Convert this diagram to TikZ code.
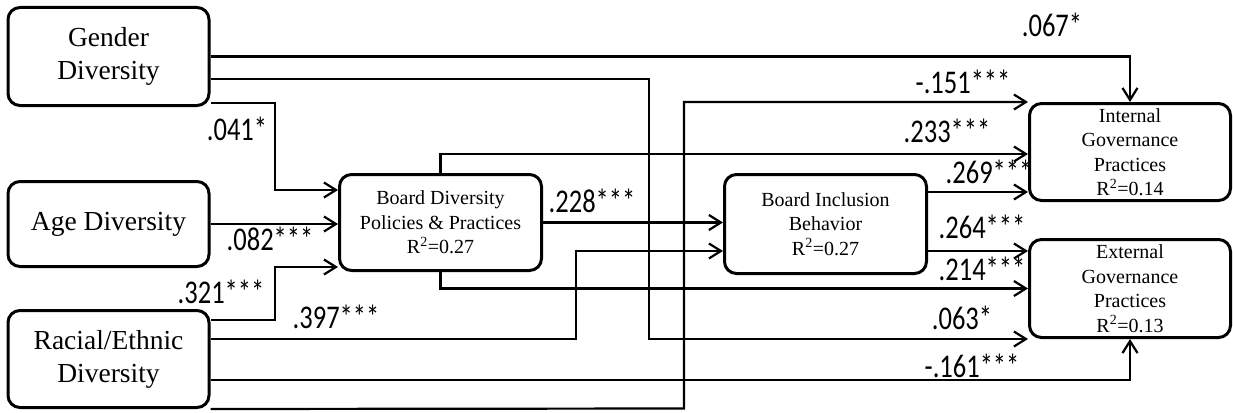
\documentclass[tikz,border=0pt]{standalone}
\usepackage{graphicx}
\usepackage{fontspec}
\setmainfont{Liberation Serif}
\newfontfamily\coeffont{Carlito}
\usetikzlibrary{arrows.meta}
\newcommand{\cf}[1]{\scalebox{1}[1.25]{#1}}
\tikzset{
  varbox/.style={draw=black, line width=3pt, rounded corners=12pt, align=center, inner sep=2pt, minimum width=201pt, font=\fontsize{27.5}{33}\selectfont},
  medbox/.style={draw=black, line width=3pt, rounded corners=12pt, align=center, inner sep=2pt, minimum width=202pt, font=\fontsize{20}{24.5}\selectfont},
  arrow/.style={-{Straight Barb[length=12pt,width=15pt]}, line width=2.2pt},
  coef/.style={anchor=base, inner sep=0pt, font=\coeffont\fontsize{26.5}{30}\selectfont}
}
\begin{document}
\begin{tikzpicture}[x=1pt, y=-1pt]
\useasboundingbox (0,0) rectangle (1233,412);
% variables
\node[varbox, minimum height=98pt] (gender) at (108.5,56.5) {Gender\\Diversity};
\node[varbox, minimum height=85pt] (age) at (108.5,224) {Age Diversity};
\node[varbox, minimum height=97pt] (racial) at (108.5,359) {Racial/Ethnic\\Diversity};
\node[medbox, minimum height=96pt] (bdpp) at (440.5,222.5) {Board Diversity\\Policies \& Practices\\R\textsuperscript{2}=0.27};
\node[medbox, minimum height=99pt] (bib) at (825.5,224) {Board Inclusion\\Behavior\\R\textsuperscript{2}=0.27};
\node[medbox, minimum width=201pt, minimum height=97pt] (igp) at (1130,152) {Internal\\Governance\\Practices\\R\textsuperscript{2}=0.14};
\node[medbox, minimum width=201pt, minimum height=98pt] (egp) at (1130,288.5) {External\\Governance\\Practices\\R\textsuperscript{2}=0.13};
% paths
\draw[arrow] (gender.east) -| (igp.north);
\draw[arrow] (gender.east |- 0,79) -- (649,79) |- (egp.south west);
\draw[arrow] (gender.east |- 0,103) -| (275,190) -- (bdpp.west |- 0,190);
\draw[arrow] (age.east) -- (age.east -| bdpp.west);
\draw[arrow] (racial.east |- 0,320) -| (275,267) -- (bdpp.west |- 0,267);
\draw[arrow] (racial.east |- 0,339) -| (576,251) -- (bib.west |- 0,251);
\draw[arrow] (racial.east |- 0,380) -| (egp.south);
\draw[arrow] (racial.south east) -- (684,408.5) |- (igp.north west);
\draw[arrow] (bdpp.north) |- (igp.west |- 0,154);
\draw[arrow] (bdpp.east) -- (bdpp.east -| bib.west);
\draw[arrow] (bdpp.south) |- (egp.west);
\draw[arrow] (bib.east |- 0,192) -- (igp.west |- 0,192);
\draw[arrow] (bib.east |- 0,251) -- (egp.west |- 0,251);
% coefficients
\node[coef] (c1) at (1052,37) {\cf{.067*}};
\node[coef] (c2) at (237,140) {\cf{.041*}};
\node[coef] (c3) at (270,250) {\cf{.082***}};
\node[coef] (c4) at (221,303) {\cf{.321***}};
\node[coef] (c5) at (336,328) {\cf{.397***}};
\node[coef] (c6) at (592,212) {\cf{.228***}};
\node[coef] (c7) at (963,93) {\cf{-.151***}};
\node[coef] (c8) at (947,142) {\cf{.233***}};
\node[coef] (c9) at (989,183) {\cf{.269***}};
\node[coef] (c10) at (982,238) {\cf{.264***}};
\node[coef] (c11) at (982,280) {\cf{.214***}};
\node[coef] (c12) at (962,329) {\cf{.063*}};
\node[coef] (c13) at (972,377) {\cf{-.161***}};
\end{tikzpicture}
\end{document}
